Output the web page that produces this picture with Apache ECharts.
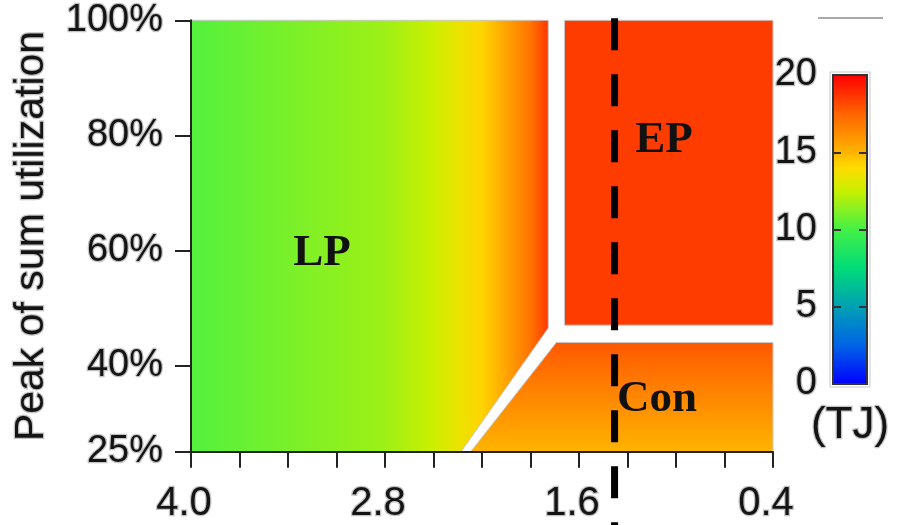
<!DOCTYPE html>
<html>
<head>
<meta charset="utf-8">
<script src="https://cdn.jsdelivr.net/npm/echarts@6/dist/echarts.min.js"></script>
<style>
  html, body { margin: 0; padding: 0; background: #ffffff; }
  #chart { width: 900px; height: 525px; }
</style>
</head>
<body>
<div id="chart"></div>
<script>
// Axis ticks and labels (the x axis runs from 4.0 down to 0.4)
const xTickValues = [0.4, 0.7, 1.0, 1.3, 1.6, 1.9, 2.2, 2.5, 2.8, 3.1, 3.4, 3.7, 4.0];
const xLabelValues = [0.4, 1.6, 2.8, 4.0];
const yTickValues = [25, 40, 60, 80, 100];
const colorbarTicks = [0, 5, 10, 15, 20];

// Energy colour scale (TJ)
const cmapValues = [0, 2.5, 5, 7.5, 10, 12.5, 14, 15, 17.5, 20];
const cmapColors = ['#0000ff', '#0064e6', '#00a0b4', '#00dc78', '#44f046', '#c8f000', '#ffdc00', '#ffb400', '#ff6400', '#ff0000'];

// Operating regions: outlines in (x, peak utilization %) coordinates
const regionNames = ['LP', 'EP', 'Con'];
const lpBoundaryX = [4.0, 1.79, 1.79, 2.33, 4.0];
const lpBoundaryY = [100, 100, 46.5, 25, 25];
const epBoundaryX = [1.69, 0.4, 0.4, 1.69];
const epBoundaryY = [100, 100, 47, 47];
const conBoundaryX = [1.74, 0.4, 0.4, 2.27];
const conBoundaryY = [44, 44, 25, 25];

// Energy inside each region
const lpEnergyAtX = [4.0, 3.4, 2.8, 2.5, 2.35, 2.2, 2.05, 1.9, 1.79];
const lpEnergy = [10.3, 11.0, 11.7, 12.6, 13.4, 14.2, 15.5, 17.0, 18.6];
const epEnergy = [18.5];
const conEnergyAtY = [44, 34.5, 25];
const conEnergy = [17.8, 16.4, 15.0];

// Threshold marked with the dashed line
const thresholdX = [1.38];

function hexToRgb(h) {
  return [parseInt(h.slice(1, 3), 16), parseInt(h.slice(3, 5), 16), parseInt(h.slice(5, 7), 16)];
}
function energyColor(e) {
  if (e <= cmapValues[0]) return cmapColors[0];
  for (let i = 1; i < cmapValues.length; i++) {
    if (e <= cmapValues[i]) {
      const t = (e - cmapValues[i - 1]) / (cmapValues[i] - cmapValues[i - 1]);
      const a = hexToRgb(cmapColors[i - 1]);
      const b = hexToRgb(cmapColors[i]);
      return 'rgb(' + a.map((v, k) => Math.round(v + (b[k] - v) * t)).join(',') + ')';
    }
  }
  return cmapColors[cmapColors.length - 1];
}

const textColor = '#141414';
const haloColor = '#c4c4c4';
const sansFont = 'Liberation Sans';
const regionFont = 'bold 45px "Liberation Serif"';

// How each region is filled and where its name sits
const regions = [
  {
    xs: lpBoundaryX, ys: lpBoundaryY, labelAt: [3.19, 59.5],
    fill: (api) => {
      const x0 = api.coord([lpEnergyAtX[0], 60])[0];
      const x1 = api.coord([lpEnergyAtX[lpEnergyAtX.length - 1], 60])[0];
      const stops = lpEnergyAtX.map((x, i) => ({
        offset: (api.coord([x, 60])[0] - x0) / (x1 - x0),
        color: energyColor(lpEnergy[i])
      }));
      return new echarts.graphic.LinearGradient(x0, 0, x1, 0, stops, true);
    }
  },
  {
    xs: epBoundaryX, ys: epBoundaryY, labelAt: [1.074, 79.1],
    fill: () => energyColor(epEnergy[0])
  },
  {
    xs: conBoundaryX, ys: conBoundaryY, labelAt: [1.117, 34.1],
    fill: (api) => {
      const y0 = api.coord([1, conEnergyAtY[0]])[1];
      const y1 = api.coord([1, conEnergyAtY[conEnergyAtY.length - 1]])[1];
      const stops = conEnergyAtY.map((y, i) => ({
        offset: (api.coord([1, y])[1] - y0) / (y1 - y0),
        color: energyColor(conEnergy[i])
      }));
      return new echarts.graphic.LinearGradient(0, y0, 0, y1, stops, true);
    }
  }
];

const chart = echarts.init(document.getElementById('chart'), null, { renderer: 'canvas' });

const labelStyle = {
  color: textColor,
  fontFamily: sansFont,
  textBorderColor: haloColor,
  textBorderWidth: 2.5
};
const axisLineStyle = { color: '#222', width: 2 };

chart.setOption({
  animation: false,
  backgroundColor: '#ffffff',
  grid: [
    { left: 191, right: 127, top: 17, bottom: 73 },
    { left: 833, top: 75, width: 34, height: 309 }
  ],
  xAxis: [
    {
      type: 'value', gridIndex: 0, min: 0.4, max: 4.0, inverse: true, z: 10,
      axisLine: { show: true, onZero: false, lineStyle: axisLineStyle },
      axisTick: { show: true, customValues: xTickValues, length: 16, lineStyle: axisLineStyle },
      axisLabel: Object.assign({
        customValues: xLabelValues,
        formatter: (v) => Number(v).toFixed(1),
        fontSize: 40, margin: 32, padding: [0, 14, 0, 0]
      }, labelStyle),
      splitLine: { show: false }
    },
    {
      type: 'value', gridIndex: 1, min: 0, max: 1,
      axisLine: { show: false }, axisTick: { show: false },
      axisLabel: { show: false }, splitLine: { show: false },
      name: '(TJ)', nameLocation: 'middle', nameGap: 20,
      nameTextStyle: Object.assign({ fontSize: 44 }, labelStyle)
    }
  ],
  yAxis: [
    {
      type: 'value', gridIndex: 0, min: 25, max: 100, z: 10,
      axisLine: { show: true, onZero: false, lineStyle: axisLineStyle },
      axisTick: { show: true, customValues: yTickValues, length: 16, lineStyle: axisLineStyle },
      axisLabel: Object.assign({
        customValues: yTickValues,
        formatter: (v) => v + '%',
        fontSize: 38, margin: 28, padding: [12, 0, 0, 0]
      }, labelStyle),
      splitLine: { show: false },
      name: 'Peak of sum utilization', nameLocation: 'middle', nameGap: 132,
      nameTextStyle: Object.assign({ fontSize: 41 }, labelStyle)
    },
    {
      type: 'value', gridIndex: 1, min: 0, max: 20, position: 'left', z: 10,
      axisLine: { show: false },
      axisTick: { show: true, inside: true, customValues: colorbarTicks, length: 8, lineStyle: { color: '#333', width: 2 } },
      axisLabel: Object.assign({ customValues: colorbarTicks, fontSize: 38, margin: 16, padding: [12, 0, 0, 0] }, labelStyle),
      splitLine: { show: false }
    },
    {
      type: 'value', gridIndex: 1, min: 0, max: 20, position: 'right', z: 10,
      axisLine: { show: false },
      axisTick: { show: true, inside: true, customValues: colorbarTicks, length: 8, lineStyle: { color: '#333', width: 2 } },
      axisLabel: { show: false },
      splitLine: { show: false }
    }
  ],
  series: [
    {
      // Filled operating regions with their names
      type: 'custom', xAxisIndex: 0, yAxisIndex: 0, z: 2,
      data: regions.map((r, i) => ({ name: regionNames[i], value: [r.xs[0], r.ys[0]] })),
      renderItem: (params, api) => {
        const r = regions[params.dataIndex];
        const pts = r.xs.map((x, k) => api.coord([x, r.ys[k]]));
        const lab = api.coord(r.labelAt);
        return {
          type: 'group',
          children: [
            {
              type: 'polygon',
              shape: { points: pts },
              style: { fill: r.fill(api), stroke: '#c8c8c8', lineWidth: 1 }
            },
            {
              type: 'text',
              style: {
                text: regionNames[params.dataIndex],
                x: lab[0], y: lab[1],
                align: 'center', verticalAlign: 'middle',
                font: regionFont, fill: '#111111'
              }
            }
          ]
        };
      }
    },
    {
      // Vertical dashed threshold line
      type: 'custom', xAxisIndex: 0, yAxisIndex: 0, z: 4, clip: false,
      data: thresholdX.map((x) => [x, 100]),
      renderItem: (params, api) => {
        const x = api.value(0);
        const top = api.coord([x, 100]);
        const bottom = api.coord([x, 8]);
        return {
          type: 'line',
          shape: { x1: top[0], y1: top[1] - 2, x2: bottom[0], y2: bottom[1] },
          style: { stroke: '#000000', lineWidth: 7, lineDash: [32, 24], lineCap: 'butt' }
        };
      }
    },
    {
      // Colour bar
      type: 'custom', xAxisIndex: 1, yAxisIndex: 1, z: 2,
      data: [[0, 0]],
      renderItem: (params, api) => {
        const p0 = api.coord([0, 20]);
        const p1 = api.coord([1, 0]);
        const stops = cmapValues.map((v, i) => ({
          offset: (api.coord([0, v])[1] - p0[1]) / (p1[1] - p0[1]),
          color: cmapColors[i]
        }));
        return {
          type: 'group',
          children: [
            {
              type: 'rect',
              shape: { x: p0[0] - 3, y: p0[1] - 3, width: p1[0] - p0[0] + 6, height: p1[1] - p0[1] + 6 },
              style: { fill: 'none', stroke: '#c8c8c8', lineWidth: 1 }
            },
            {
              type: 'rect',
              shape: { x: p0[0], y: p0[1], width: p1[0] - p0[0], height: p1[1] - p0[1] },
              style: {
                fill: new echarts.graphic.LinearGradient(0, p0[1], 0, p1[1], stops, true),
                stroke: '#333333', lineWidth: 2
              }
            }
          ]
        };
      }
    }
  ],
  graphic: [
    {
      type: 'line', z: 5,
      shape: { x1: 818, y1: 18, x2: 883, y2: 18 },
      style: { stroke: '#aaaaaa', lineWidth: 2 }
    }
  ]
});
</script>
</body>
</html>
